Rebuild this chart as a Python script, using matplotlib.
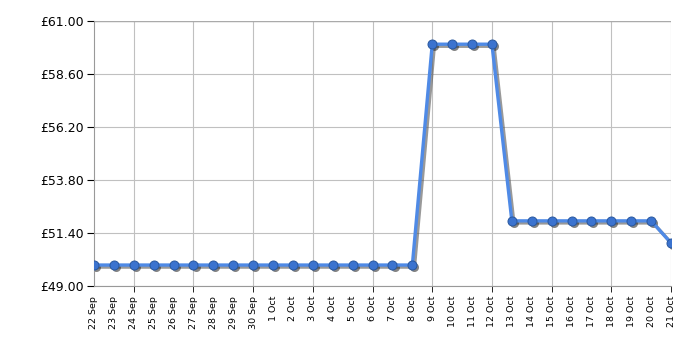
import matplotlib.pyplot as plt
import matplotlib.transforms as mtransforms
import numpy as np

dates = ["22 Sep", "23 Sep", "24 Sep", "25 Sep", "26 Sep", "27 Sep", "28 Sep", "29 Sep", "30 Sep",
         "1 Oct", "2 Oct", "3 Oct", "4 Oct", "5 Oct", "6 Oct", "7 Oct", "8 Oct", "9 Oct", "10 Oct",
         "11 Oct", "12 Oct", "13 Oct", "14 Oct", "15 Oct", "16 Oct", "17 Oct", "18 Oct", "19 Oct",
         "20 Oct", "21 Oct"]
prices = [49.95] * 17 + [59.95] * 4 + [51.95] * 8 + [50.95]
y_ticks = [49.00, 51.40, 53.80, 56.20, 58.60, 61.00]

fig = plt.figure(figsize=(7, 3.5), dpi=100)
ax = fig.add_axes([94 / 700, 1 - 286 / 350, 577 / 700, 265 / 350])

x = np.arange(len(dates))
# drop shadow
shadow = mtransforms.offset_copy(ax.transData, fig=fig, x=1.5, y=-1.5, units="points")
ax.plot(x, prices, color="#555555", alpha=0.6, lw=2.4, marker="o", ms=6.5,
        mfc="#333333", mec="none", transform=shadow, zorder=2)
ax.plot(x, prices, color="#4f8ae6", lw=2.4, marker="o", ms=6.5,
        mfc="#3b73cf", mec="#28579e", mew=0.7, zorder=3)

ax.set_xlim(0, len(dates) - 1)
ax.set_ylim(49, 61)
ax.set_yticks(y_ticks)
ax.set_yticklabels(["£%.2f" % v for v in y_ticks], fontsize=9)
ax.xaxis.remove_overlapping_locs = False
ax.set_xticks(x)
ax.set_xticklabels(dates, rotation=90, fontsize=6.8)
ax.tick_params(axis="x", which="major", length=0, pad=7)
ax.set_xticks(x[2::3], minor=True)
ax.tick_params(axis="x", which="minor", length=4, color="black")
ax.tick_params(axis="y", length=5, color="black", pad=2)

ax.grid(True, which="minor", axis="x", color="#c0c0c0", lw=0.8)
ax.grid(True, which="major", axis="y", color="#c0c0c0", lw=0.8)
for s in ["top", "right"]:
    ax.spines[s].set_visible(False)
for s in ["left", "bottom"]:
    ax.spines[s].set_color("#999999")
ax.axhline(61, color="#aaaaaa", lw=1)

fig.savefig("out.png", dpi=100)
